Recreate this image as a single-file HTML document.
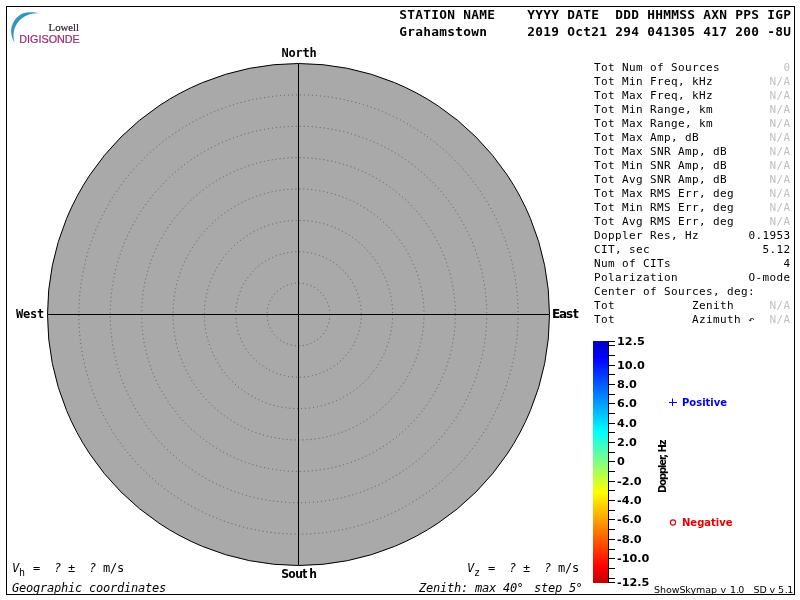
<!DOCTYPE html>
<html lang="en"><head><meta charset="utf-8"><title>Skymap - Grahamstown</title>
<style>
html,body{margin:0;padding:0;background:#fff;}
body{width:800px;height:600px;overflow:hidden;position:relative;}
svg{position:absolute;left:0;top:0;display:block;will-change:transform;}
text{white-space:pre;}
.hb{font-family:"DejaVu Sans Mono","Liberation Mono",monospace;font-weight:bold;font-size:12.8px;fill:#000;}
.m{font-family:"DejaVu Sans Mono","Liberation Mono",monospace;font-size:12px;fill:#000;}
.t{font-family:"DejaVu Sans Mono","Liberation Mono",monospace;font-size:11px;fill:#000;}
.mb{font-family:"DejaVu Sans Mono","Liberation Mono",monospace;font-weight:bold;font-size:12px;fill:#000;}
.sb{font-family:"DejaVu Sans","Liberation Sans",sans-serif;font-weight:bold;font-size:12px;fill:#000;}
.sc{font-family:"DejaVu Sans Condensed","DejaVu Sans","Liberation Sans",sans-serif;font-weight:bold;font-stretch:condensed;font-size:12px;fill:#000;}
.mi{font-family:"DejaVu Sans Mono","Liberation Mono",monospace;font-style:oblique;font-size:12px;fill:#000;}
.cb{font-family:"DejaVu Sans","Liberation Sans",sans-serif;font-weight:bold;font-size:11.25px;fill:#000;}
.lg{font-family:"DejaVu Sans","Liberation Sans",sans-serif;font-weight:bold;font-size:10px;}
.ft{font-family:"DejaVu Sans","Liberation Sans",sans-serif;font-size:9.5px;fill:#000;}
</style></head><body>
<svg width="800" height="600" viewBox="0 0 800 600">
<defs>
<linearGradient id="jet" x1="0" y1="0" x2="0" y2="1">
<stop offset="0" stop-color="#0000c0"/>
<stop offset="0.07" stop-color="#0000ff"/>
<stop offset="0.375" stop-color="#00ffff"/>
<stop offset="0.5" stop-color="#80ff80"/>
<stop offset="0.625" stop-color="#ffff00"/>
<stop offset="0.93" stop-color="#ff0000"/>
<stop offset="1" stop-color="#c00000"/>
</linearGradient>
</defs>

<rect x="6.5" y="6.5" width="788" height="588" fill="#fff" stroke="#000" stroke-width="1"/>
<g id="logo">
<path d="M39.3,13.4 C34,11.6 27,11.9 22.7,13.6 C17,16 12.5,22 11.4,28 C10.6,33 12,39 14.7,42.7 C13.3,39 13.2,34 14.2,30 C15.6,24.5 19.6,19.4 24.6,16.6 C28.6,14.2 33.5,13 39.3,13.4 Z" fill="#3296c0"/>
<text x="48.6" y="31" textLength="30.5" lengthAdjust="spacingAndGlyphs" font-family="'Liberation Serif',serif" font-size="11px" fill="#2b2430" stroke="#2b2430" stroke-width="0.2">Lowell</text>
<text x="19.3" y="43" textLength="60.5" lengthAdjust="spacingAndGlyphs" font-family="'Liberation Sans',sans-serif" font-size="10.5px" fill="#9b2c6c" stroke="#9b2c6c" stroke-width="0.2">DIGISONDE</text>
</g>
<circle cx="298.5" cy="314.5" r="251" fill="#a9a9a9" stroke="#000" stroke-width="1"/>
<circle cx="298.5" cy="314.5" r="31.375" fill="none" stroke="#5c5c5c" stroke-width="1" stroke-dasharray="1 3"/>
<circle cx="298.5" cy="314.5" r="62.750" fill="none" stroke="#5c5c5c" stroke-width="1" stroke-dasharray="1 3"/>
<circle cx="298.5" cy="314.5" r="94.125" fill="none" stroke="#5c5c5c" stroke-width="1" stroke-dasharray="1 3"/>
<circle cx="298.5" cy="314.5" r="125.500" fill="none" stroke="#5c5c5c" stroke-width="1" stroke-dasharray="1 3"/>
<circle cx="298.5" cy="314.5" r="156.875" fill="none" stroke="#5c5c5c" stroke-width="1" stroke-dasharray="1 3"/>
<circle cx="298.5" cy="314.5" r="188.250" fill="none" stroke="#5c5c5c" stroke-width="1" stroke-dasharray="1 3"/>
<circle cx="298.5" cy="314.5" r="219.625" fill="none" stroke="#5c5c5c" stroke-width="1" stroke-dasharray="1 3"/>
<line x1="48.0" y1="314.5" x2="549.0" y2="314.5" stroke="#000" stroke-width="1"/>
<line x1="298.5" y1="64.0" x2="298.5" y2="565.0" stroke="#000" stroke-width="1"/>
<text class="mb" y="57"><tspan x="281.5 288.5 295.5 302.5 309.5">North</tspan></text>
<text class="mb" y="318"><tspan x="16 23 30 37">West</tspan></text>
<text class="sb" y="318"><tspan x="552 559 566 573">East</tspan></text>
<text class="sc" y="578"><tspan x="281.3 288.3 295.3 302.3 309.3">South</tspan></text>
<text class="hb" y="19"><tspan x="399.3 407.3 415.3 423.3 431.3 439.3 447.3">STATION</tspan> <tspan x="463.3 471.3 479.3 487.3">NAME</tspan> <tspan x="527.3 535.3 543.3 551.3">YYYY</tspan> <tspan x="567.3 575.3 583.3 591.3">DATE</tspan> <tspan x="615.3 623.3 631.3">DDD</tspan> <tspan x="647.3 655.3 663.3 671.3 679.3 687.3">HHMMSS</tspan> <tspan x="703.3 711.3 719.3">AXN</tspan> <tspan x="735.3 743.3 751.3">PPS</tspan> <tspan x="767.3 775.3 783.3">IGP</tspan></text>
<text class="hb" y="36"><tspan x="399.3 407.3 415.3 423.3 431.3 439.3 447.3 455.3 463.3 471.3 479.3">Grahamstown</tspan> <tspan x="527.3 535.3 543.3 551.3">2019</tspan> <tspan x="567.3 575.3 583.3 591.3 599.3">Oct21</tspan> <tspan x="615.3 623.3 631.3">294</tspan> <tspan x="647.3 655.3 663.3 671.3 679.3 687.3">041305</tspan> <tspan x="703.3 711.3 719.3">417</tspan> <tspan x="735.3 743.3 751.3">200</tspan> <tspan x="767.3 775.3 783.3">-8U</tspan></text>
<text class="t" y="71"><tspan x="594 601 608">Tot</tspan> <tspan x="622 629 636">Num</tspan> <tspan x="650 657">of</tspan> <tspan x="671 678 685 692 699 706 713">Sources</tspan></text>
<text class="t" y="71" style="fill:#c0c0c0"><tspan x="783.6">0</tspan></text>
<text class="t" y="85"><tspan x="594 601 608">Tot</tspan> <tspan x="622 629 636">Min</tspan> <tspan x="650 657 664 671 678">Freq,</tspan> <tspan x="692 699 706">kHz</tspan></text>
<text class="t" y="85" style="fill:#c0c0c0"><tspan x="769.6 776.6 783.6">N/A</tspan></text>
<text class="t" y="99"><tspan x="594 601 608">Tot</tspan> <tspan x="622 629 636">Max</tspan> <tspan x="650 657 664 671 678">Freq,</tspan> <tspan x="692 699 706">kHz</tspan></text>
<text class="t" y="99" style="fill:#c0c0c0"><tspan x="769.6 776.6 783.6">N/A</tspan></text>
<text class="t" y="113"><tspan x="594 601 608">Tot</tspan> <tspan x="622 629 636">Min</tspan> <tspan x="650 657 664 671 678 685">Range,</tspan> <tspan x="699 706">km</tspan></text>
<text class="t" y="113" style="fill:#c0c0c0"><tspan x="769.6 776.6 783.6">N/A</tspan></text>
<text class="t" y="127"><tspan x="594 601 608">Tot</tspan> <tspan x="622 629 636">Max</tspan> <tspan x="650 657 664 671 678 685">Range,</tspan> <tspan x="699 706">km</tspan></text>
<text class="t" y="127" style="fill:#c0c0c0"><tspan x="769.6 776.6 783.6">N/A</tspan></text>
<text class="t" y="141"><tspan x="594 601 608">Tot</tspan> <tspan x="622 629 636">Max</tspan> <tspan x="650 657 664 671">Amp,</tspan> <tspan x="685 692">dB</tspan></text>
<text class="t" y="141" style="fill:#c0c0c0"><tspan x="769.6 776.6 783.6">N/A</tspan></text>
<text class="t" y="155"><tspan x="594 601 608">Tot</tspan> <tspan x="622 629 636">Max</tspan> <tspan x="650 657 664">SNR</tspan> <tspan x="678 685 692 699">Amp,</tspan> <tspan x="713 720">dB</tspan></text>
<text class="t" y="155" style="fill:#c0c0c0"><tspan x="769.6 776.6 783.6">N/A</tspan></text>
<text class="t" y="169"><tspan x="594 601 608">Tot</tspan> <tspan x="622 629 636">Min</tspan> <tspan x="650 657 664">SNR</tspan> <tspan x="678 685 692 699">Amp,</tspan> <tspan x="713 720">dB</tspan></text>
<text class="t" y="169" style="fill:#c0c0c0"><tspan x="769.6 776.6 783.6">N/A</tspan></text>
<text class="t" y="183"><tspan x="594 601 608">Tot</tspan> <tspan x="622 629 636">Avg</tspan> <tspan x="650 657 664">SNR</tspan> <tspan x="678 685 692 699">Amp,</tspan> <tspan x="713 720">dB</tspan></text>
<text class="t" y="183" style="fill:#c0c0c0"><tspan x="769.6 776.6 783.6">N/A</tspan></text>
<text class="t" y="197"><tspan x="594 601 608">Tot</tspan> <tspan x="622 629 636">Max</tspan> <tspan x="650 657 664">RMS</tspan> <tspan x="678 685 692 699">Err,</tspan> <tspan x="713 720 727">deg</tspan></text>
<text class="t" y="197" style="fill:#c0c0c0"><tspan x="769.6 776.6 783.6">N/A</tspan></text>
<text class="t" y="211"><tspan x="594 601 608">Tot</tspan> <tspan x="622 629 636">Min</tspan> <tspan x="650 657 664">RMS</tspan> <tspan x="678 685 692 699">Err,</tspan> <tspan x="713 720 727">deg</tspan></text>
<text class="t" y="211" style="fill:#c0c0c0"><tspan x="769.6 776.6 783.6">N/A</tspan></text>
<text class="t" y="225"><tspan x="594 601 608">Tot</tspan> <tspan x="622 629 636">Avg</tspan> <tspan x="650 657 664">RMS</tspan> <tspan x="678 685 692 699">Err,</tspan> <tspan x="713 720 727">deg</tspan></text>
<text class="t" y="225" style="fill:#c0c0c0"><tspan x="769.6 776.6 783.6">N/A</tspan></text>
<text class="t" y="239"><tspan x="594 601 608 615 622 629 636">Doppler</tspan> <tspan x="650 657 664 671">Res,</tspan> <tspan x="685 692">Hz</tspan></text>
<text class="t" y="239"><tspan x="748.6 755.6 762.6 769.6 776.6 783.6">0.1953</tspan></text>
<text class="t" y="253"><tspan x="594 601 608 615">CIT,</tspan> <tspan x="629 636 643">sec</tspan></text>
<text class="t" y="253"><tspan x="762.6 769.6 776.6 783.6">5.12</tspan></text>
<text class="t" y="267"><tspan x="594 601 608">Num</tspan> <tspan x="622 629">of</tspan> <tspan x="643 650 657 664">CITs</tspan></text>
<text class="t" y="267"><tspan x="783.6">4</tspan></text>
<text class="t" y="281"><tspan x="594 601 608 615 622 629 636 643 650 657 664 671">Polarization</tspan></text>
<text class="t" y="281"><tspan x="748.6 755.6 762.6 769.6 776.6 783.6">O-mode</tspan></text>
<text class="t" y="295"><tspan x="594 601 608 615 622 629">Center</tspan> <tspan x="643 650">of</tspan> <tspan x="664 671 678 685 692 699 706 713">Sources,</tspan> <tspan x="727 734 741 748">deg:</tspan></text>
<text class="t" y="309"><tspan x="594 601 608">Tot</tspan> <tspan x="692 699 706 713 720 727">Zenith</tspan></text>
<text class="t" y="309" style="fill:#c0c0c0"><tspan x="769.6 776.6 783.6">N/A</tspan></text>
<text class="t" y="323"><tspan x="594 601 608">Tot</tspan> <tspan x="692 699 706 713 720 727 734">Azimuth</tspan></text>
<text class="t" y="323" style="fill:#c0c0c0"><tspan x="769.6 776.6 783.6">N/A</tspan></text>
<text class="m" x="748" y="323" style="font-size:10.5px">↶</text>
<rect x="593" y="341" width="15" height="242" fill="url(#jet)"/>
<rect x="608" y="341" width="1" height="242" fill="#000"/>
<path d="M608,341.5h7M608,345.5h7M608,355.5h7M608,365.5h7M608,374.5h7M608,384.5h7M608,394.5h7M608,403.5h7M608,413.5h7M608,423.5h7M608,432.5h7M608,442.5h7M608,452.5h7M608,461.5h7M608,471.5h7M608,481.5h7M608,490.5h7M608,500.5h7M608,510.5h7M608,519.5h7M608,529.5h7M608,539.5h7M608,549.5h7M608,558.5h7M608,568.5h7M608,578.5h7M608,582.5h7" stroke="#000" stroke-width="1" fill="none"/>
<text class="cb" x="617" y="345">12.5</text>
<text class="cb" x="617" y="369">10.0</text>
<text class="cb" x="617" y="388">8.0</text>
<text class="cb" x="617" y="407">6.0</text>
<text class="cb" x="617" y="427">4.0</text>
<text class="cb" x="617" y="446">2.0</text>
<text class="cb" x="617" y="465">0</text>
<text class="cb" x="617" y="485">-2.0</text>
<text class="cb" x="617" y="504">-4.0</text>
<text class="cb" x="617" y="523">-6.0</text>
<text class="cb" x="617" y="543">-8.0</text>
<text class="cb" x="617" y="562">-10.0</text>
<text class="cb" x="617" y="586">-12.5</text>
<text class="lg" transform="translate(665.5,493) rotate(-90)" textLength="53.5" lengthAdjust="spacing" fill="#000">Doppler, Hz</text>
<path d="M669,402.5h8M672.5,398.5v7.5" stroke="#0000e6" stroke-width="1" fill="none"/>
<text class="lg" x="682" y="406" fill="#0000e6">Positive</text>
<circle cx="673" cy="522.5" r="2.6" stroke="#e60000" stroke-width="1.1" fill="none"/>
<text class="lg" x="682" y="526" fill="#e60000">Negative</text>
<text class="mi" y="572"><tspan x="12">V</tspan></text>
<text class="m" x="19" y="576" style="font-size:10px">h</text>
<text class="m" y="572"><tspan x="33">=</tspan></text>
<text class="mi" y="572"><tspan x="54">?</tspan></text>
<text class="m" y="572"><tspan x="68">±</tspan></text>
<text class="mi" y="572"><tspan x="89">?</tspan></text>
<text class="m" y="572"><tspan x="103 110 117">m/s</tspan></text>
<text class="mi" y="592"><tspan x="12 19 26 33 40 47 54 61 68 75">Geographic</tspan> <tspan x="89 96 103 110 117 124 131 138 145 152 159">coordinates</tspan></text>
<text class="mi" y="572"><tspan x="467">V</tspan></text>
<text class="m" x="474" y="576" style="font-size:10px">z</text>
<text class="m" y="572"><tspan x="488">=</tspan></text>
<text class="mi" y="572"><tspan x="509">?</tspan></text>
<text class="m" y="572"><tspan x="523">±</tspan></text>
<text class="mi" y="572"><tspan x="544">?</tspan></text>
<text class="m" y="572"><tspan x="558 565 572">m/s</tspan></text>
<text class="mi" y="592"><tspan x="419 426 433 440 447 454 461">Zenith:</tspan> <tspan x="475 482 489">max</tspan> <tspan x="503 510">40</tspan></text>
<text class="mi" x="516.5" y="592">°</text>
<text class="mi" y="592"><tspan x="534 541 548 555">step</tspan> <tspan x="569">5</tspan></text>
<text class="mi" x="575.5" y="592">°</text>
<text class="ft" y="593"><tspan x="654" textLength="63" lengthAdjust="spacing">ShowSkymap</tspan> <tspan x="720.5">v</tspan> <tspan x="730 736.3 738.3">1.0</tspan> <tspan x="753.5">SD</tspan> <tspan x="769.5">v</tspan> <tspan x="778 784.7 787.3">5.1</tspan></text>
</svg>
</body></html>
